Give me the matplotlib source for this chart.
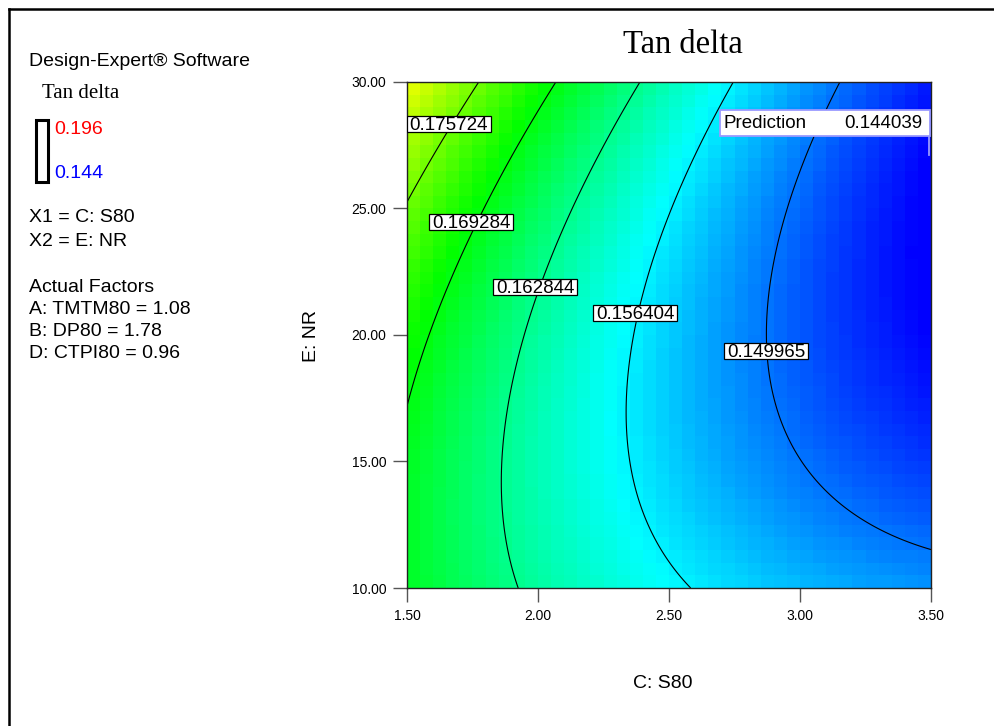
import matplotlib
matplotlib.use("Agg")
import matplotlib.pyplot as plt
import numpy as np
from matplotlib.colors import LinearSegmentedColormap
from matplotlib.patches import Rectangle
from matplotlib.lines import Line2D

# factor ranges (actual units)
s80_range = [1.5, 3.5]
nr_range = [10.0, 30.0]
x_ticks = [1.5, 2.0, 2.5, 3.0, 3.5]
y_ticks = [10.0, 15.0, 20.0, 25.0, 30.0]

# quadratic model in coded units: b0, C, E, CE, C^2, E^2
model_coef = [0.154540, -0.013400, 0.001843, -0.005068, 0.002942, 0.004376]

# response limits used for the colour scale
tan_delta_low = 0.144
tan_delta_high = 0.196

contour_levels = [0.149965, 0.156404, 0.162844, 0.169284, 0.175724]
label_x = [2.870, 2.370, 1.989, 1.746, 1.660]
label_y = [19.37, 20.87, 21.88, 24.45, 28.34]

prediction_value = 0.144039

factor_lines = ["A: TMTM80 = 1.08", "B: DP80 = 1.78", "D: CTPI80 = 0.96"]

SANS = "Liberation Sans"
SERIF = "Liberation Serif"
W, H = 995, 726
AX_L, AX_R, AX_T, AX_B = 407, 931, 82, 588


def fpos(px, py):
    return px / W, 1 - py / H


def tan_delta(s80, nr):
    c = (s80 - 2.5) / 1.0
    e = (nr - 20.0) / 10.0
    b0, b1, b2, b12, b11, b22 = model_coef
    return b0 + b1 * c + b2 * e + b12 * c * e + b11 * c ** 2 + b22 * e ** 2


fig = plt.figure(figsize=(9.95, 7.26), dpi=100)
ax = fig.add_axes([AX_L / W, 1 - AX_B / H, (AX_R - AX_L) / W, (AX_B - AX_T) / H])

cmap = LinearSegmentedColormap.from_list(
    "de_rainbow", ["#0000ff", "#00ffff", "#00ff00", "#ffff00", "#ff0000"]
)

# coarse shaded grid
xe = np.linspace(s80_range[0], s80_range[1], 41)
ye = np.linspace(nr_range[0], nr_range[1], 41)
xc = 0.5 * (xe[:-1] + xe[1:])
yc = 0.5 * (ye[:-1] + ye[1:])
XC, YC = np.meshgrid(xc, yc)
ax.pcolormesh(xe, ye, tan_delta(XC, YC), cmap=cmap,
              vmin=tan_delta_low, vmax=tan_delta_high, shading="flat")

# contour lines on a fine grid
xf = np.linspace(s80_range[0], s80_range[1], 300)
yf = np.linspace(nr_range[0], nr_range[1], 300)
XF, YF = np.meshgrid(xf, yf)
ax.contour(XF, YF, tan_delta(XF, YF), levels=contour_levels,
           colors="k", linewidths=0.8)

# contour value boxes, sized in pixels
px_x = (s80_range[1] - s80_range[0]) / (AX_R - AX_L)
px_y = (nr_range[1] - nr_range[0]) / (AX_B - AX_T)
box_w, box_h = 84 * px_x, 16 * px_y
for lv, lx, ly in zip(contour_levels, label_x, label_y):
    ax.add_patch(Rectangle((lx - box_w / 2, ly - box_h / 2), box_w, box_h,
                           fc="white", ec="black", lw=0.9, zorder=4))
    ax.text(lx, ly + 0.5 * px_y, f"{lv:.6f}", ha="center", va="center_baseline",
            fontsize=13.5, family=SANS, zorder=5)

ax.set_xlim(s80_range)
ax.set_ylim(nr_range)
ax.set_xticks(x_ticks)
ax.set_yticks(y_ticks)
ax.set_xticklabels([f"{v:.2f}" for v in x_ticks], family=SANS, fontsize=10)
ax.set_yticklabels([f"{v:.2f}" for v in y_ticks], family=SANS, fontsize=10)
ax.tick_params(direction="out", length=10, width=1.0, color="#555555", pad=5)
for sp in ax.spines.values():
    sp.set_linewidth(1.0)
    sp.set_color("#222222")

fig.text(*fpos(663, 683), "C: S80", ha="center", va="center", family=SANS, fontsize=14)
fig.text(*fpos(312, 336), "E: NR", ha="center", va="center", rotation=90,
         family=SANS, fontsize=14)
fig.text(*fpos(683, 45), "Tan delta", ha="center", va="center", family=SERIF, fontsize=23.5)

# prediction flag
bx0, bx1 = 720, 930
by0, by1 = 110, 136
fig.patches.append(Rectangle(fpos(bx0, by1), (bx1 - bx0) / W, (by1 - by0) / H,
                             transform=fig.transFigure, fc="white", ec="#9a9aff",
                             lw=1.3, zorder=6))
fig.lines.append(Line2D([929 / W, 929 / W], [1 - by1 / H, 1 - 155 / H],
                        transform=fig.transFigure, color="#9a9aff", lw=1.3, zorder=6))
fig.text(*fpos(724, 124), "Prediction", ha="left", va="center",
         family=SANS, fontsize=13.5, zorder=7)
fig.text(*fpos(922, 124), f"{prediction_value:.6f}", ha="right", va="center",
         family=SANS, fontsize=13.5, zorder=7)

# left information panel
fig.text(*fpos(29, 62), "Design-Expert\u00ae Software", ha="left", va="center",
         family=SANS, fontsize=14)
fig.text(*fpos(42, 94), "Tan delta", ha="left", va="center", family=SERIF, fontsize=15)
fig.patches.append(Rectangle(fpos(36, 182), 12 / W, 62 / H, transform=fig.transFigure,
                             fc="none", ec="black", lw=2.2))
fig.text(*fpos(54, 129), f"{tan_delta_high:.3f}", ha="left", va="center",
         family=SANS, fontsize=14, color="#ff0000")
fig.text(*fpos(54, 174), f"{tan_delta_low:.3f}", ha="left", va="center",
         family=SANS, fontsize=14, color="#0000ff")
fig.text(*fpos(29, 218), "X1 = C: S80", ha="left", va="center", family=SANS, fontsize=14)
fig.text(*fpos(29, 242), "X2 = E: NR", ha="left", va="center", family=SANS, fontsize=14)
fig.text(*fpos(29, 288), "Actual Factors", ha="left", va="center", family=SANS, fontsize=14)
for i, line in enumerate(factor_lines):
    fig.text(*fpos(29, 310 + 22 * i), line, ha="left", va="center",
             family=SANS, fontsize=14)

# page frame
fig.lines.append(Line2D([9 / W, 1.0], [1 - 9 / H, 1 - 9 / H],
                        transform=fig.transFigure, color="black", lw=1.8))
fig.lines.append(Line2D([9 / W, 9 / W], [1 - 9 / H, 0.0],
                        transform=fig.transFigure, color="black", lw=1.8))

fig.savefig("out.png", dpi=100)
